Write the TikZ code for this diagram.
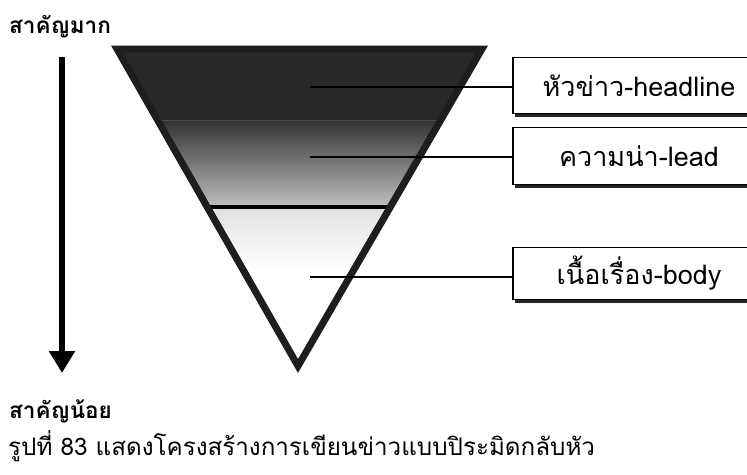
\documentclass[tikz,border=0pt]{standalone}
\usepackage{fontspec}
\usepackage{tikz}
\usetikzlibrary{positioning, calc, arrows.meta, shadows}
\newfontfamily\thaifont[Script=Thai]{Loma}
\definecolor{bandtop}{RGB}{40,40,40}
\definecolor{edgegray}{RGB}{30,30,30}
\tikzset{
  levelbox/.style={rectangle, draw=black, line width=1.6pt, fill=white, minimum width=252pt, text centered, font=\thaifont\fontsize{27}{31}\selectfont, drop shadow={shadow xshift=2pt, shadow yshift=-3pt, opacity=1, fill=black!85}},
  leader/.style={draw=black, line width=1.4pt},
  sidelabel/.style={anchor=west, inner sep=0pt, font=\thaifont\bfseries\fontsize{22.5}{26}\selectfont}
}
\begin{document}
\begin{tikzpicture}[x=1pt, y=-1pt]
    \useasboundingbox (0,0) rectangle (747,474);
    \fill[white] (0,0) rectangle (747,474);

    % Inverted pyramid bands
    \begin{scope}
        \clip (117,49) -- (482,49) -- (298,366) -- cycle;
        \fill[bandtop] (100,45) rectangle (500,120);
        \shade[top color=black!80, bottom color=black!25] (100,120) rectangle (500,207);
        \shade[top color=black!12, bottom color=white] (100,207) rectangle (500,270);
        \fill[white] (100,270) rectangle (500,370);
        \draw[black!70, line width=1pt] (100,120) -- (500,120);
        \draw[black, line width=3.5pt] (100,207) -- (500,207);
    \end{scope}
    \draw[edgegray, line width=7pt, line join=miter] (117,49) -- (482,49) -- (298,366) -- cycle;

    % Boxes
    \node (headline) [levelbox, minimum height=56pt] at (639,85.5) {หัวข่าว-headline};
    \node (lead) [levelbox, minimum height=57pt] at (639,156) {ความน่า-lead};
    \node (body) [levelbox, minimum height=52pt] at (639,273.5) {เนื้อเรื่อง-body};

    % Leader lines
    \coordinate (hlpt) at (310,87);
    \coordinate (ldpt) at (310,157);
    \coordinate (bdpt) at (310,277);
    \draw [leader] (hlpt) -- (hlpt -| headline.west);
    \draw [leader] (ldpt) -- (ldpt -| lead.west);
    \draw [leader] (bdpt) -- (bdpt -| body.west);

    % Importance arrow
    \node (more) [sidelabel] at (9,27) {สาคัญมาก};
    \node (less) [sidelabel] at (9,411) {สาคัญน้อย};
    \coordinate (arrtop) at (62,57);
    \coordinate (arrbot) at (62,373);
    \draw [line width=6.5pt, -{Triangle[width=25pt, length=22pt]}] (arrtop) -- (arrbot);

    % Caption
    \node (caption) [anchor=west, inner sep=0pt, font=\thaifont\fontsize{24.2}{28}\selectfont] at (8,446) {รูปที่ 83 แสดงโครงสร้างการเขียนข่าวแบบปิระมิดกลับหัว};
\end{tikzpicture}
\end{document}
